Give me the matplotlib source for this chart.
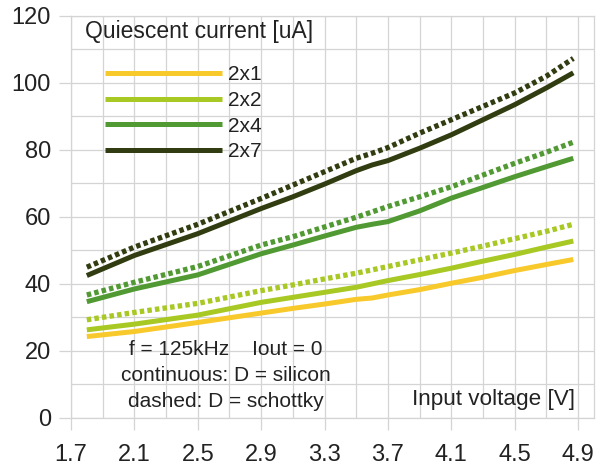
#!/usr/bin/env python3
import matplotlib
matplotlib.use("Agg")
import matplotlib.pyplot as plt
from matplotlib.ticker import MultipleLocator, FixedLocator

plt.rcParams['font.family'] = ['Liberation Sans', 'DejaVu Sans']

# input voltage [V]
volts = [1.8, 2.1, 2.5, 2.9, 3.1, 3.3, 3.5, 3.6, 3.7, 3.9, 4.1, 4.3, 4.5, 4.7, 4.87]

# quiescent current [uA], continuous = silicon diode, dashed = schottky diode
silicon_2x1 = [24.3, 25.8, 28.5, 31.3, 32.7, 34.0, 35.4, 35.8, 36.7, 38.3, 40.2, 42.0, 44.0, 45.8, 47.3]
silicon_2x2 = [26.3, 28.0, 30.7, 34.5, 36.0, 37.5, 39.0, 40.0, 41.0, 42.8, 44.7, 46.8, 48.8, 51.0, 52.8]
schottky_2x2 = [29.3, 31.5, 34.2, 38.0, 39.7, 41.5, 43.2, 44.2, 45.2, 47.2, 49.2, 51.3, 53.5, 55.7, 57.8]
silicon_2x4 = [34.7, 38.5, 42.7, 49.0, 51.6, 54.3, 56.9, 57.8, 58.6, 61.8, 65.6, 68.8, 72.0, 75.0, 77.5]
schottky_2x4 = [36.7, 40.5, 45.2, 51.6, 54.1, 57.0, 59.9, 61.5, 63.1, 66.0, 69.0, 72.5, 76.0, 79.3, 82.3]
silicon_2x7 = [42.5, 48.5, 55.0, 62.5, 66.0, 69.8, 73.8, 75.5, 76.8, 80.5, 84.5, 89.0, 93.5, 98.5, 103.0]
schottky_2x7 = [45.0, 51.0, 57.8, 65.5, 69.5, 73.5, 77.5, 79.0, 80.7, 85.0, 89.0, 93.0, 97.0, 102.0, 107.3]

labels = ['2x1', '2x2', '2x4', '2x7']
colors = ['#f8c92b', '#a8c823', '#519a33', '#313d10']
x_ticks = [1.7, 2.1, 2.5, 2.9, 3.3, 3.7, 4.1, 4.5, 4.9]

fig = plt.figure(figsize=(5.99, 4.67), dpi=100)
ax = fig.add_axes([0.1185, 0.105, 0.873, 0.861])

grid_c = '#d4d4d4'
text_c = '#222222'
silicon = [silicon_2x1, silicon_2x2, silicon_2x4, silicon_2x7]
schottky = [None, schottky_2x2, schottky_2x4, schottky_2x7]

for lab, col, s, d in zip(labels, colors, silicon, schottky):
    ax.plot(volts, s, color=col, lw=3.6, solid_capstyle='butt', label=lab, zorder=3)
    if d is not None:
        ax.plot(volts, d, color=col, lw=3.8, linestyle=(0, (0.85, 0.6)),
                dash_capstyle='butt', zorder=3)

ax.set_xlim(1.7, 5.0)
ax.set_ylim(0, 120)
ax.xaxis.set_major_locator(FixedLocator(x_ticks))
ax.xaxis.set_minor_locator(MultipleLocator(0.2, offset=0.1))
ax.yaxis.set_major_locator(MultipleLocator(20))
ax.yaxis.set_minor_locator(MultipleLocator(10))
ax.set_xticklabels([f'{v:.1f}' for v in x_ticks])

ax.grid(True, which='both', color=grid_c, lw=0.9)
ax.set_axisbelow(True)
for sp in ax.spines.values():
    sp.set_color(grid_c)
    sp.set_linewidth(0.9)

ax.tick_params(which='major', length=8.5, color=grid_c, width=0.9,
               labelsize=17, labelcolor=text_c)
ax.tick_params(axis='y', which='major', pad=6)
ax.tick_params(axis='x', which='major', pad=10)
ax.tick_params(which='minor', length=0)

ax.text(0.027, 0.962, 'Quiescent current [uA]', transform=ax.transAxes,
        fontsize=16.5, ha='left', va='center', color=text_c)
ax.text(0.296, 0.105, 'f = 125kHz    Iout = 0\ncontinuous: D = silicon\ndashed: D = schottky',
        transform=ax.transAxes, fontsize=15, ha='center', va='center',
        linespacing=1.45, color=text_c)
ax.text(0.963, 0.045, 'Input voltage [V]', transform=ax.transAxes,
        fontsize=16.2, ha='right', va='center', color=text_c)

leg = ax.legend(loc='upper left', bbox_to_anchor=(0.065, 0.877), frameon=False,
                fontsize=15, handlelength=5.6, handletextpad=0.3,
                labelspacing=0.32, borderpad=0, borderaxespad=0)
for t in leg.get_texts():
    t.set_color(text_c)

fig.savefig('out.png', dpi=100, facecolor='white')
